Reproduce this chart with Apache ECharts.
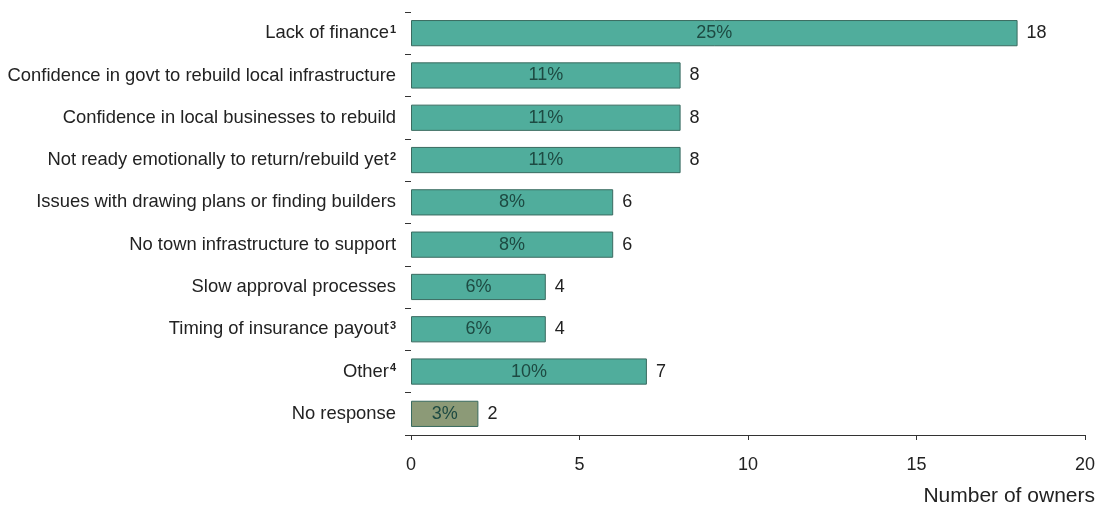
<!DOCTYPE html>
<html>
<head>
<meta charset="utf-8">
<script src="https://cdn.jsdelivr.net/npm/echarts@6/dist/echarts.min.js"></script>
<style>
html, body { margin: 0; padding: 0; background: #fff; }
#chart { width: 1098px; height: 509px; }
</style>
</head>
<body>
<div id="chart"></div>
<script>
// Reasons given by owners for not yet rebuilding
const categories = [
  'Lack of finance',
  'Confidence in govt to rebuild local infrastructure',
  'Confidence in local businesses to rebuild',
  'Not ready emotionally to return/rebuild yet',
  'Issues with drawing plans or finding builders',
  'No town infrastructure to support',
  'Slow approval processes',
  'Timing of insurance payout',
  'Other',
  'No response'
];
// footnote markers shown as superscripts after the category name
const footnotes = ['1', '', '', '2', '', '', '', '3', '4', ''];
const owners = [18, 8, 8, 8, 6, 6, 4, 4, 7, 2];
const shares = ['25%', '11%', '11%', '11%', '8%', '8%', '6%', '6%', '10%', '3%'];
const xTicks = [0, 5, 10, 15, 20];

const teal = '#50ad9c';
const olive = '#8c9a77';

const chart = echarts.init(document.getElementById('chart'));

const barData = owners.map((v, i) => ({
  value: v,
  itemStyle: {
    color: categories[i] === 'No response' ? olive : teal
  }
}));

chart.setOption({
  animation: false,
  textStyle: { fontFamily: 'Liberation Sans, Arial, sans-serif' },
  grid: { left: 411, right: 12, top: 12, bottom: 74, containLabel: false },
  xAxis: {
    type: 'value',
    min: xTicks[0],
    max: xTicks[xTicks.length - 1],
    interval: 5,
    name: 'Number of owners',
    nameLocation: 'end',
    nameGap: 0,
    nameTextStyle: {
      fontSize: 21, color: '#222',
      align: 'right', verticalAlign: 'top',
      padding: [51, -10, 0, 0]
    },
    axisLine: { show: true, lineStyle: { color: '#333', width: 1.2 } },
    axisTick: { show: true, length: 5, lineStyle: { color: '#333' } },
    axisLabel: { fontSize: 18, color: '#222', margin: 21 },
    splitLine: { show: false }
  },
  yAxis: {
    type: 'category',
    data: categories,
    inverse: true,
    axisLine: { show: false },
    axisTick: { show: true, length: 6, alignWithLabel: false, lineStyle: { color: '#333' } },
    axisLabel: {
      fontSize: 18.4, color: '#222', margin: 15,
      formatter: value => {
        const note = footnotes[categories.indexOf(value)];
        return note ? value + '{sup|' + note + '}' : value;
      },
      rich: {
        sup: { fontSize: 11, fontWeight: 'bold', color: '#222', verticalAlign: 'top', padding: [0, 0, 7, 1] }
      }
    }
  },
  series: [{
    type: 'bar',
    data: barData,
    barWidth: '62%',
    itemStyle: { borderColor: '#3a6b60', borderWidth: 1 },
    label: {
      show: true,
      position: 'inside',
      fontSize: 18,
      color: '#1d4a42',
      formatter: p => shares[p.dataIndex]
    }
  }, {
    // value labels to the right of each bar
    type: 'bar',
    data: owners,
    barWidth: '62%',
    barGap: '-100%',
    silent: true,
    itemStyle: { color: 'transparent' },
    label: {
      show: true,
      position: 'right',
      distance: 9,
      fontSize: 18,
      color: '#222',
      formatter: p => String(p.value)
    }
  }]
});
</script>
</body>
</html>
